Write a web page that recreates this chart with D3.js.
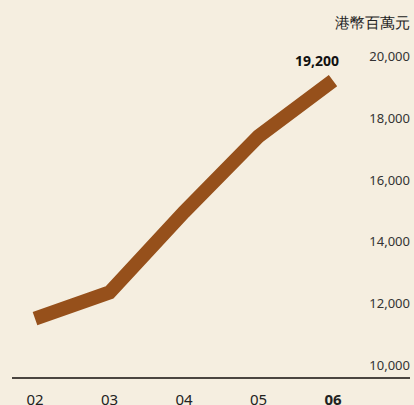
<!DOCTYPE html>
<html>
<head>
<meta charset="utf-8">
<script src="https://cdn.jsdelivr.net/npm/d3@7"></script>
<style>
html,body{margin:0;padding:0;background:#f5eee0;}
svg{display:block;}
text{font-family:"Noto Sans","Open Sans",sans-serif;}
</style>
</head>
<body>
<svg id="chart" width="414" height="405"></svg>
<script>
const years = ["02","03","04","05","06"];
const values = [11500, 12350, 14950, 17400, 19200];
const yTicks = [10000, 12000, 14000, 16000, 18000, 20000];
const unitLabel = "港幣百萬元";
const highlightLabel = "19,200";

const svg = d3.select("#chart");
const x = d3.scaleLinear().domain([0, years.length - 1]).range([35, 333]);
const y = d3.scaleLinear().domain([10000, 20000]).range([365, 56]);

// y tick labels (right side)
svg.append("g").selectAll("text").data(yTicks).join("text")
  .attr("x", 410).attr("y", d => y(d))
  .attr("text-anchor", "end").attr("dominant-baseline", "central")
  .attr("font-size", 13).attr("fill", "#333")
  .text(d => d3.format(",")(d));

// unit label
svg.append("text").attr("x", 410).attr("y", 22)
  .attr("text-anchor", "end").attr("dominant-baseline", "central")
  .attr("font-size", 15).attr("fill", "#222").text(unitLabel);

// baseline
svg.append("line").attr("x1", 12).attr("x2", 410).attr("y1", 378).attr("y2", 378)
  .attr("stroke", "#4a4540").attr("stroke-width", 2);

// x labels
svg.append("g").selectAll("text").data(years).join("text")
  .attr("x", (d, i) => x(i)).attr("y", 399)
  .attr("text-anchor", "middle").attr("dominant-baseline", "central")
  .attr("font-size", 15).attr("fill", "#222")
  .attr("font-weight", (d, i) => i === years.length - 1 ? "bold" : "normal")
  .text(d => d);

// line
const line = d3.line().x((d, i) => x(i)).y(d => y(d));
svg.append("path").datum(values).attr("d", line)
  .attr("fill", "none").attr("stroke", "#96501b").attr("stroke-width", 14)
  .attr("stroke-linejoin", "miter").attr("stroke-linecap", "butt");

// highlight value label
svg.append("text").attr("x", x(years.length - 1) - 16).attr("y", 60)
  .attr("text-anchor", "middle").attr("dominant-baseline", "central")
  .attr("font-size", 14).attr("font-weight", "bold").attr("fill", "#111")
  .text(highlightLabel);
</script>
</body>
</html>
